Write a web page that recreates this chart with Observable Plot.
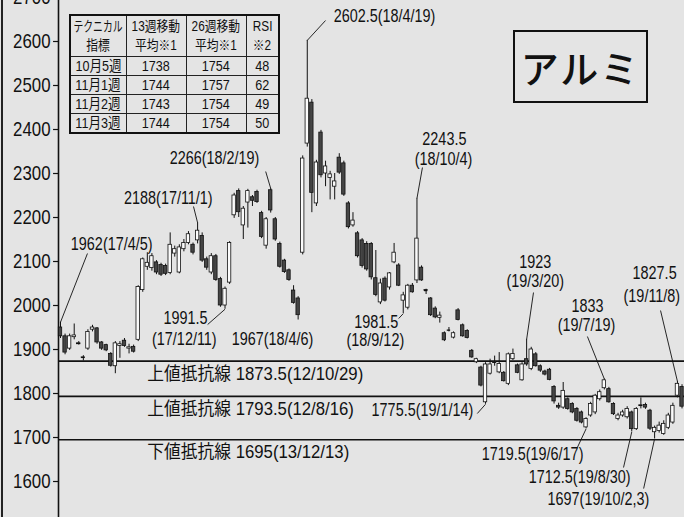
<!DOCTYPE html>
<html><head><meta charset="utf-8">
<script src="https://cdn.jsdelivr.net/npm/d3@7"></script>
<script src="https://cdn.jsdelivr.net/npm/@observablehq/plot@0.6"></script>
<style>
html,body{margin:0;padding:0;background:#e4e4e4;}
#wrap{position:relative;width:684px;height:517px;overflow:hidden;background:#e4e4e4;}
#chart svg{display:block;}
#edge{position:absolute;left:1px;top:0;width:2px;height:517px;background:#222;}
#tbl{position:absolute;left:69px;top:14px;border-collapse:collapse;border:2px solid #111;table-layout:fixed;width:209px;
  font-family:"Liberation Sans","Noto Sans CJK JP",sans-serif;color:#111;}
#tbl td{border:1px solid #222;text-align:center;padding:0;font-size:15px;height:18px;line-height:18px;white-space:nowrap;overflow:visible;}
#tbl tr.h td{height:40px;line-height:19px;font-size:14px;}
#tbl span{display:inline-block;transform:scaleX(0.84);margin:0 -6px;}
#tbl span.sq{transform:scaleX(0.7);margin:0 -12px;}
#title{position:absolute;left:513px;top:30px;width:131px;height:69px;border:2px solid #111;white-space:nowrap;
  font-family:"Noto Sans CJK JP",sans-serif;font-size:38px;font-weight:500;color:#111;
  display:flex;align-items:center;justify-content:center;letter-spacing:2px;}
</style></head>
<body>
<div id="wrap">
  <div id="chart"></div>
  <div id="edge"></div>
  <table id="tbl"></table>
  <div id="title">アルミ</div>
</div>
<script>
// ---- data ----
const weekStart = "2017-04-03";
const open = [
1950,1930,1902,1928,1912,1881,1902,1945,1948,1916,
1910,1890,1862,1908,1920,1902,1906,1922,2035,2088,
2085,2098,2092,2090,2074,2118,2075,2128,2142,2138,
2148,2158,2105,2075,2112,2060,2000,2052,2205,2260,
2182,2234,2246,2258,2210,2136,2262,2196,2140,2102,
2080,2034,2016,2120,2368,2461,2232,2393,2300,2290,
2270,2336,2323,2232,2182,2164,2148,2140,2140,2062,
2007,2061,2041,2098,2091,2011,1995,2045,2057,2086,
2035,2016,1993,1972,1937,1944,1927,1989,1955,1942,
1897,1871,1859,1780,1845,1870,1848,1847,1822,1878,
1864,1830,1878,1856,1889,1862,1850,1854,1815,1772,
1768,1787,1776,1765,1757,1723,1750,1757,1787,1812,
1810,1776,1742,1750,1746,1757,1719,1772,1774,1761,
1712,1715,1708,1722,1734,1795,1815];
const high = [
1962,1935,1935,1958,1918,1886,1945,1955,1950,1918,
1912,1893,1918,1918,1925,1912,1910,2045,2108,2120,
2118,2102,2096,2094,2165,2135,2138,2150,2168,2142,
2188,2165,2110,2118,2116,2064,2042,2145,2255,2265,
2225,2264,2250,2262,2214,2200,2266,2200,2144,2105,
2083,2045,2020,2340,2602.5,2468,2330,2398,2328,2305,
2300,2345,2328,2236,2211,2168,2152,2145,2143,2125,
2060,2065,2075,2141,2095,2030,2048,2050,2243.5,2090,
2037,2018,1997,1985,1940,1950,1940,1993,1958,1945,
1900,1880,1862,1870,1878,1885,1893,1850,1892,1901,
1867,1870,1923,1905,1893,1865,1853,1857,1818,1778,
1825,1790,1779,1768,1760,1745,1780,1798,1808,1833,
1814,1779,1755,1762,1770,1760,1768,1790,1778,1764,
1726,1735,1738,1755,1778,1827.5,1820];
const low = [
1925,1888,1898,1922,1910,1874,1898,1940,1912,1898,
1895,1860,1845,1880,1905,1890,1892,1918,2030,2080,
2078,2070,2066,2068,2070,2110,2072,2122,2138,2115,
2140,2098,2080,2070,2055,1996,1991.5,2048,2198,2200,
2150,2176,2225,2232,2152,2128,2210,2146,2085,2073,
2055,2003,1967,2115,2360,2211,2225,2290,2270,2240,
2240,2298,2248,2174,2178,2108,2085,2078,2058,2020,
2002,2008,2035,2095,2043,1981.5,1990,2028,2050,2055,
2025,1975,1970,1960,1918,1940,1924,1965,1928,1924,
1880,1868,1815,1775.5,1842,1862,1845,1826,1818,1875,
1845,1828,1862,1852,1860,1848,1840,1829,1776,1764,
1764,1762,1754,1735,1731,1719.5,1746,1752,1783,1808,
1778,1750,1738,1746,1742,1712.5,1716,1765,1764,1716,
1697,1710,1705,1718,1730,1790,1765];
const close = [
1930,1893,1930,1932,1914,1882,1940,1950,1916,1902,
1898,1863,1914,1912,1908,1905,1895,2042,2105,2097,
2112,2075,2070,2072,2138,2128,2132,2142,2162,2120,
2170,2102,2086,2112,2058,2000,2038,2142,2250,2212,
2220,2260,2238,2235,2156,2196,2216,2150,2088,2076,
2058,2006,1978,2334,2470,2256,2325,2296,2316,2298,
2282,2302,2252,2178,2193,2112,2090,2082,2064,2024,
2050,2011,2073,2120,2045,2023,2045,2030,2152,2057,
2034,1978,1973,1977,1921,1944,1937,1967,1930,1926,
1882,1878,1818,1866,1866,1871,1867,1828,1889,1890,
1847,1866,1866,1900,1862,1852,1843,1831,1782,1768,
1806,1765,1757,1738,1734,1742,1776,1795,1803,1830,
1780,1753,1750,1757,1765,1719,1765,1773,1768,1720,
1722,1727,1731,1750,1772,1822,1770];

const yTicks = [1600,1700,1800,1900,2000,2100,2200,2300,2400,2500,2600,2700];

const resistValue = [1873.5, 1793.5, 1695];
const resistLabel = ["上値抵抗線 1873.5(12/10/29)", "上値抵抗線 1793.5(12/8/16)", "下値抵抗線 1695(13/12/13)"];
const resistLabelWeek = [19.0, 19.0, 19.0];
const resistLabelValue = [1843.2, 1763.6, 1665.9];

// annotation texts and their positions (week index from weekStart, price)
const annText  = ["1962(17/4/5)","2188(17/11/1)","1991.5","(17/12/11)","1967(18/4/6)","2266(18/2/19)","2602.5(18/4/19)",
  "2243.5","(18/10/4)","1981.5","(18/9/12)","1923","(19/3/20)","1833","(19/7/19)","1827.5","(19/11/8)",
  "1775.5(19/1/14)","1719.5(19/6/17)","1712.5(19/8/30)","1697(19/10/2,3)"];
const annWeek  = [11.2,23.6,27.35,27.1,46.4,33.7,70.9, 84.0,83.8,69.1,68.9,103.9,103.9,115.3,115.1,130.0,129.4, 79.2,103.3,113.6,117.7];
const annValue = [2138.6,2244.3,1972,1924,1922.7,2334,2656.8, 2377,2333,1961,1920,2099,2056,1999,1956,2073,2020.5, 1761.4,1661.4,1609,1559];

// leader lines: start (week, price) -> candle extreme (week index, price)
const leadFromWeek  = [5.9,29.1,32.2,44.9,58.0,79.2,74.0,103.5,115.3,131.3,91.2,113.1,123.2,127.6];
const leadFromValue = [2118.2,2225,1956.8,2304.5,2647.7,2313.6,1970.5,2029.5,1929.5,1988.6,1754.5,1677.3,1631.8,1584];
const leadToWeek    = [0,30,36,46,54,78,75,102,119,135,93,115,125,130];
const leadToValue   = [1962,2188,1991.5,2266,2602.5,2243.5,1981.5,1923,1833,1827.5,1775.5,1719.5,1712.5,1697];

const tableHead = ["<span class='sq'>テクニカル</span><br><span>指標</span>", "<span>13週移動</span><br><span>平均※1</span>", "<span>26週移動</span><br><span>平均※1</span>", "<span>RSI</span><br><span>※2</span>"];
const tableWeeks = ["10月5週","11月1週","11月2週","11月3週"];
const ma13 = [1738,1744,1743,1744];
const ma26 = [1754,1757,1754,1754];
const rsi  = [48,62,49,50];

// ---- build ----
const DAY = 864e5;
const t0 = Date.parse(weekStart + "T00:00:00Z");
const weekDate = w => new Date(t0 + w * 7 * DAY);
const candles = open.map((o, i) => ({date: weekDate(i), open: o, high: high[i], low: low[i], close: close[i], up: close[i] >= o}));
const half = 2.6 * DAY;
const ann = annText.map((t, i) => ({text: t, date: weekDate(annWeek[i]), value: annValue[i]}));
const leaders = leadFromWeek.map((w, i) => ({x1: weekDate(w), y1: leadFromValue[i], x2: weekDate(leadToWeek[i]), y2: leadToValue[i]}));
const resLabels = resistLabel.map((t, i) => ({text: t, date: weekDate(resistLabelWeek[i]), value: resistLabelValue[i]}));

const xDomain = [new Date(t0 - 3.06 * DAY), new Date(t0 + 955.8 * DAY)];
const tickStart = new Date(+xDomain[0] - 7.6 * DAY); // tick length reaching left of the axis
const font = "'Liberation Sans','Noto Sans CJK JP',sans-serif";

const chart = Plot.plot({
  width: 684, height: 517,
  marginLeft: 58, marginRight: 0, marginTop: 0, marginBottom: 0,
  style: {background: "transparent", fontFamily: font, color: "#111"},
  x: {type: "utc", domain: xDomain, range: [58, 684], axis: null},
  y: {domain: [1518.2, 2700], range: [517, -3], axis: null},
  marks: [
    Plot.ruleY(resistValue, {stroke: "#111", strokeWidth: 1.6}),
    Plot.ruleX([xDomain[0]], {stroke: "#111", strokeWidth: 1.6}),
    Plot.ruleY(yTicks, {x1: tickStart, x2: xDomain[0], stroke: "#111", strokeWidth: 1.2}),
    Plot.text(yTicks, {x: xDomain[0], y: d => d, text: d => String(d), textAnchor: "end", dx: -8, fontSize: 21, fill: "#111"}),
    Plot.ruleX(candles, {x: "date", y1: "low", y2: "high", stroke: "#111", strokeWidth: 1}),
    Plot.rect(candles, {x1: d => new Date(+d.date - half), x2: d => new Date(+d.date + half), y1: "open", y2: "close",
      fill: d => d.up ? "#fbfbfb" : "#454545", stroke: "#111", strokeWidth: 0.8}),
    Plot.ruleY(candles.filter(d => Math.abs(d.open - d.close) < 3), {y: "close", x1: d => new Date(+d.date - half), x2: d => new Date(+d.date + half), stroke: "#111", strokeWidth: 1.3}),
    Plot.link(leaders, {x1: "x1", y1: "y1", x2: "x2", y2: "y2", stroke: "#111", strokeWidth: 0.9}),
    Plot.text(ann, {x: "date", y: "value", text: "text", fontSize: 18, textAnchor: "middle", fill: "#111"}),
    Plot.text(resLabels, {x: "date", y: "value", text: "text", fontSize: 18, textAnchor: "start", fill: "#111"})
  ]
});
document.getElementById("chart").appendChild(chart);

// condense the lettering like the newspaper's narrow gothic (textLength keeps each anchor in place)
const tickSet = new Set(yTicks.map(String));
const resSet = new Set(resistLabel);
chart.querySelectorAll("text").forEach(el => {
  const s = el.textContent;
  const f = tickSet.has(s) ? 0.8 : resSet.has(s) ? 0.93 : 0.8;
  const len = el.getComputedTextLength();
  if (len > 0) {
    el.setAttribute("textLength", (len * f).toFixed(1));
    el.setAttribute("lengthAdjust", "spacingAndGlyphs");
  }
});

// table
const tbl = document.getElementById("tbl");
const widths = [56, 60, 60, 33];
let html = "<colgroup>" + widths.map(w => `<col style="width:${w}px">`).join("") + "</colgroup>";
html += "<tr class='h'>" + tableHead.map(h => `<td>${h}</td>`).join("") + "</tr>";
tableWeeks.forEach((w, i) => {
  html += `<tr><td><span>${w}</span></td><td><span>${ma13[i]}</span></td><td><span>${ma26[i]}</span></td><td><span>${rsi[i]}</span></td></tr>`;
});
tbl.innerHTML = html;
</script>
</body></html>
